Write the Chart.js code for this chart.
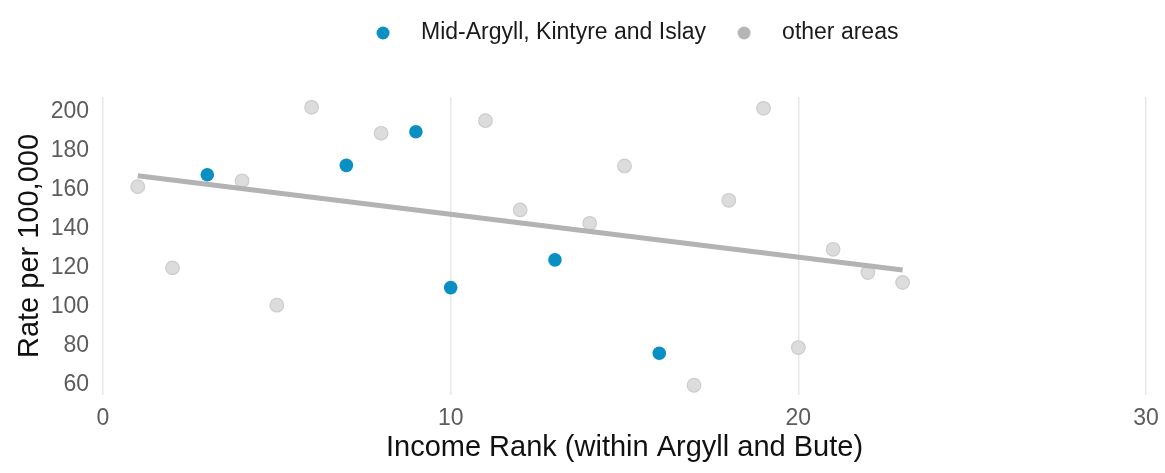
<!DOCTYPE html>
<html>
<head>
<meta charset="utf-8">
<script src="https://cdn.jsdelivr.net/npm/chart.js@4"></script>
<style>
    html, body { margin: 0; padding: 0; background: #ffffff; }
    #wrap { width: 1165px; height: 473px; }
</style>
</head>
<body>
<div id="wrap"><canvas id="canvas"></canvas></div>
<script>
// values
const blueLabel = 'Mid-Argyll, Kintyre and Islay';
const blueRank = [3, 7, 9, 10, 13, 16];
const blueRate = [166.1, 170.9, 188.1, 108.3, 122.5, 74.7];

const otherLabel = 'other areas';
const otherRank = [1, 2, 4, 5, 6, 8, 11, 12, 14, 15, 17, 18, 19, 20, 21, 22, 23];
const otherRate = [160.0, 118.4, 163.0, 99.3, 200.6, 187.3, 193.8, 148.1, 141.2, 170.6, 58.3, 153.0, 200.1, 77.6, 127.9, 116.0, 110.9];

// fitted line ends as drawn in the picture
const trendRank = [1, 23];
const trendRate = [165.6, 117.3];

const yTicks = [60, 80, 100, 120, 140, 160, 180, 200];
const xTicks = [0, 10, 20, 30];

const toPoints = (xs, ys) => xs.map((x, i) => ({ x: x, y: ys[i] }));

const blue = '#0a8fc2';

// small round dots for the legend, so the gap to the text can be set
const makeDot = (color) => {
    const c = document.createElement('canvas');
    c.width = 14;
    c.height = 14;
    const g = c.getContext('2d');
    g.fillStyle = color;
    g.beginPath();
    g.arc(7, 7, 6.5, 0, Math.PI * 2);
    g.fill();
    return c;
};
const legendDots = [makeDot(blue), makeDot('#b5b5b5')];

const legendSizer = {
    id: 'legendSizer',
    afterInit(chart) {
        const lg = chart.legend;
        const fit = lg.fit;
        lg.fit = function () {
            fit.call(this);
            this.height = 87;
        };
    },
    afterLayout(chart) {
        chart.legend.left += 48;
        chart.legend.right += 48;
    }
};

const dataToCanvas = {
    datasets: [
        {
            label: blueLabel,
            data: toPoints(blueRank, blueRate),
            backgroundColor: blue,
            borderColor: blue,
            pointRadius: 6.8,
            pointBorderWidth: 0,
            order: 0
        },
        {
            label: 'trend',
            type: 'line',
            data: toPoints(trendRank, trendRate),
            borderColor: '#b3b3b3',
            borderWidth: 5,
            pointRadius: 0,
            fill: false,
            order: 1
        },
        {
            label: otherLabel,
            data: toPoints(otherRank, otherRate),
            backgroundColor: '#dcdcdc',
            borderColor: '#cdcdcd',
            pointRadius: 6.8,
            pointBorderWidth: 1.2,
            order: 2
        }
    ]
};

const config = {
    type: 'scatter',
    data: dataToCanvas,
    plugins: [legendSizer],
    options: {
        responsive: true,
        maintainAspectRatio: false,
        animation: false,
        layout: { padding: { left: 13, right: 19, top: 10, bottom: 8 } },
        plugins: {
            tooltip: { enabled: false },
            legend: {
                position: 'top',
                labels: {
                    usePointStyle: true,
                    pointStyleWidth: 53,
                    padding: 11.5,
                    color: '#1a1a1a',
                    font: { family: 'Liberation Sans', size: 23 },
                    filter: (item) => item.text !== 'trend',
                    generateLabels: (chart) => {
                        const items = Chart.defaults.plugins.legend.labels.generateLabels(chart);
                        items.forEach(item => {
                            item.pointStyle = item.datasetIndex === 0 ? legendDots[0] : legendDots[1];
                        });
                        return items;
                    }
                }
            }
        },
        scales: {
            x: {
                type: 'linear',
                min: 0,
                max: 30,
                afterBuildTicks: (axis) => { axis.ticks = xTicks.map(v => ({ value: v })); },
                afterFit: (axis) => {
                    axis.height = 70;
                    axis.paddingLeft = 0;
                    axis.paddingRight = 0;
                },
                border: { display: false },
                grid: { color: '#e8e8e8', lineWidth: 1.5, drawTicks: false },
                ticks: {
                    padding: 10,
                    color: '#5c5c5c',
                    font: { family: 'Liberation Sans', size: 23 }
                },
                title: {
                    display: true,
                    text: 'Income Rank (within Argyll and Bute)',
                    color: '#111111',
                    padding: { top: 0, bottom: 0 },
                    font: { family: 'Liberation Sans', size: 29 }
                }
            },
            y: {
                type: 'linear',
                min: 53.3,
                max: 205.9,
                afterBuildTicks: (axis) => { axis.ticks = yTicks.map(v => ({ value: v })); },
                afterFit: (axis) => { axis.width = 90; },
                border: { display: false },
                grid: { display: false, drawTicks: false },
                ticks: {
                    padding: 14,
                    labelOffset: 3,
                    color: '#5c5c5c',
                    font: { family: 'Liberation Sans', size: 23 }
                },
                title: {
                    display: true,
                    text: 'Rate per 100,000',
                    color: '#111111',
                    padding: { top: 0, bottom: 0 },
                    font: { family: 'Liberation Sans', size: 29 }
                }
            }
        }
    }
};

const chart = new Chart(document.getElementById('canvas'), config);
</script>
</body>
</html>
